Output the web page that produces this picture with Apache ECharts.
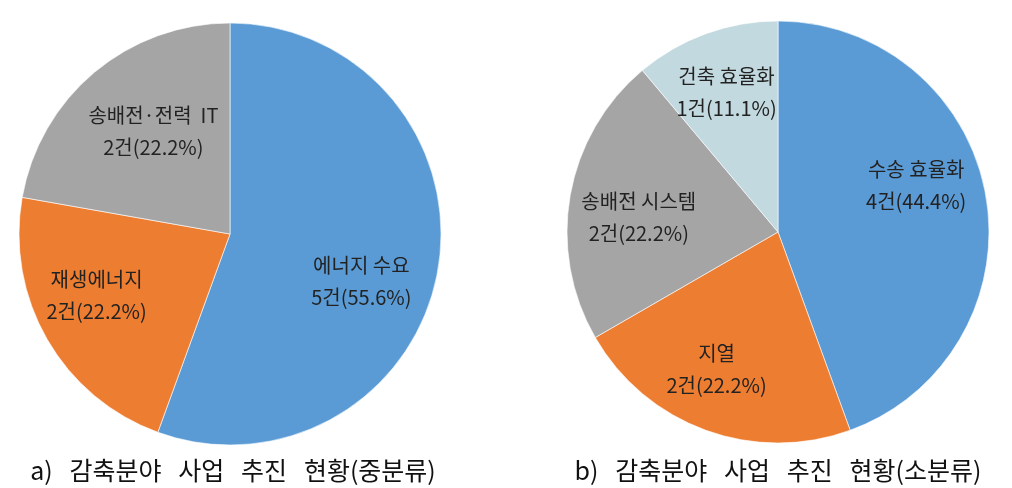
<!DOCTYPE html>
<html>
<head>
<meta charset="utf-8">
<script src="https://cdn.jsdelivr.net/npm/echarts@6/dist/echarts.min.js"></script>
<style>
html,body{margin:0;padding:0;background:#fff;}
#c{width:1012px;height:488px;}
</style>
</head>
<body>
<div id="c"></div>
<script>
const leftNames = ['에너지 수요', '재생에너지', '송배전·전력  IT'];
const leftValues = [5, 2, 2];
const rightNames = ['수송 효율화', '지열', '송배전 시스템', '건축 효율화'];
const rightValues = [4, 2, 2, 1];
const leftCaption = 'a)   감축분야   사업   추진   현황(중분류)';
const rightCaption = 'b)   감축분야   사업   추진   현황(소분류)';

// styling
const leftColors = ['#5B9BD5', '#ED7D31', '#A5A5A5'];
const rightColors = ['#5B9BD5', '#ED7D31', '#A5A5A5', '#C2D9DF'];
const leftLabelNudge = [[-9, 23], [-10, -10], [15, 7]];
const rightLabelNudge = [[-10, -20], [-10, -4], [9, 12], [0, 2]];

const FONT = '"Noto Sans CJK KR", "Noto Sans", sans-serif';
const R = 211;

function sum(a) { return a.reduce((s, v) => s + v, 0); }

function basePie(center, names, values, colors) {
  return {
    type: 'pie', center: center, radius: [0, R], startAngle: 90, clockwise: true,
    silent: true,
    data: names.map((n, i) => ({ name: n, value: values[i] })),
    color: colors,
    itemStyle: { borderColor: 'rgba(255,255,255,0.6)', borderWidth: 1 },
    label: { show: false }, labelLine: { show: false }
  };
}

function labelPie(center, inner, names, values, nudges) {
  const total = sum(values);
  return {
    type: 'pie', center: center, radius: [inner, R], startAngle: 90, clockwise: true,
    silent: true,
    data: names.map((n, i) => ({ name: n, value: values[i], label: { offset: nudges[i] } })),
    itemStyle: { color: 'rgba(0,0,0,0)' },
    label: {
      show: true, position: 'inside',
      formatter: p => p.name + '\n' + p.value + '건(' + (p.value / total * 100).toFixed(1) + '%)',
      fontFamily: FONT, fontSize: 20, lineHeight: 32, color: '#222'
    },
    labelLine: { show: false }
  };
}

const chart = echarts.init(document.getElementById('c'), null, { renderer: 'canvas' });
chart.setOption({
  backgroundColor: '#ffffff',
  animation: false,
  title: [
    { text: leftCaption, left: 228, top: 453, textAlign: 'center',
      textStyle: { fontFamily: FONT, fontSize: 25, fontWeight: 'normal', color: '#111' } },
    { text: rightCaption, left: 773, top: 453, textAlign: 'center',
      textStyle: { fontFamily: FONT, fontSize: 25, fontWeight: 'normal', color: '#111' } }
  ],
  series: [
    basePie([230, 234], leftNames, leftValues, leftColors),
    labelPie([230, 234], 68, leftNames, leftValues, leftLabelNudge),
    basePie([778, 232], rightNames, rightValues, rightColors),
    labelPie([778, 232], 84, rightNames, rightValues, rightLabelNudge)
  ]
});
</script>
</body>
</html>
